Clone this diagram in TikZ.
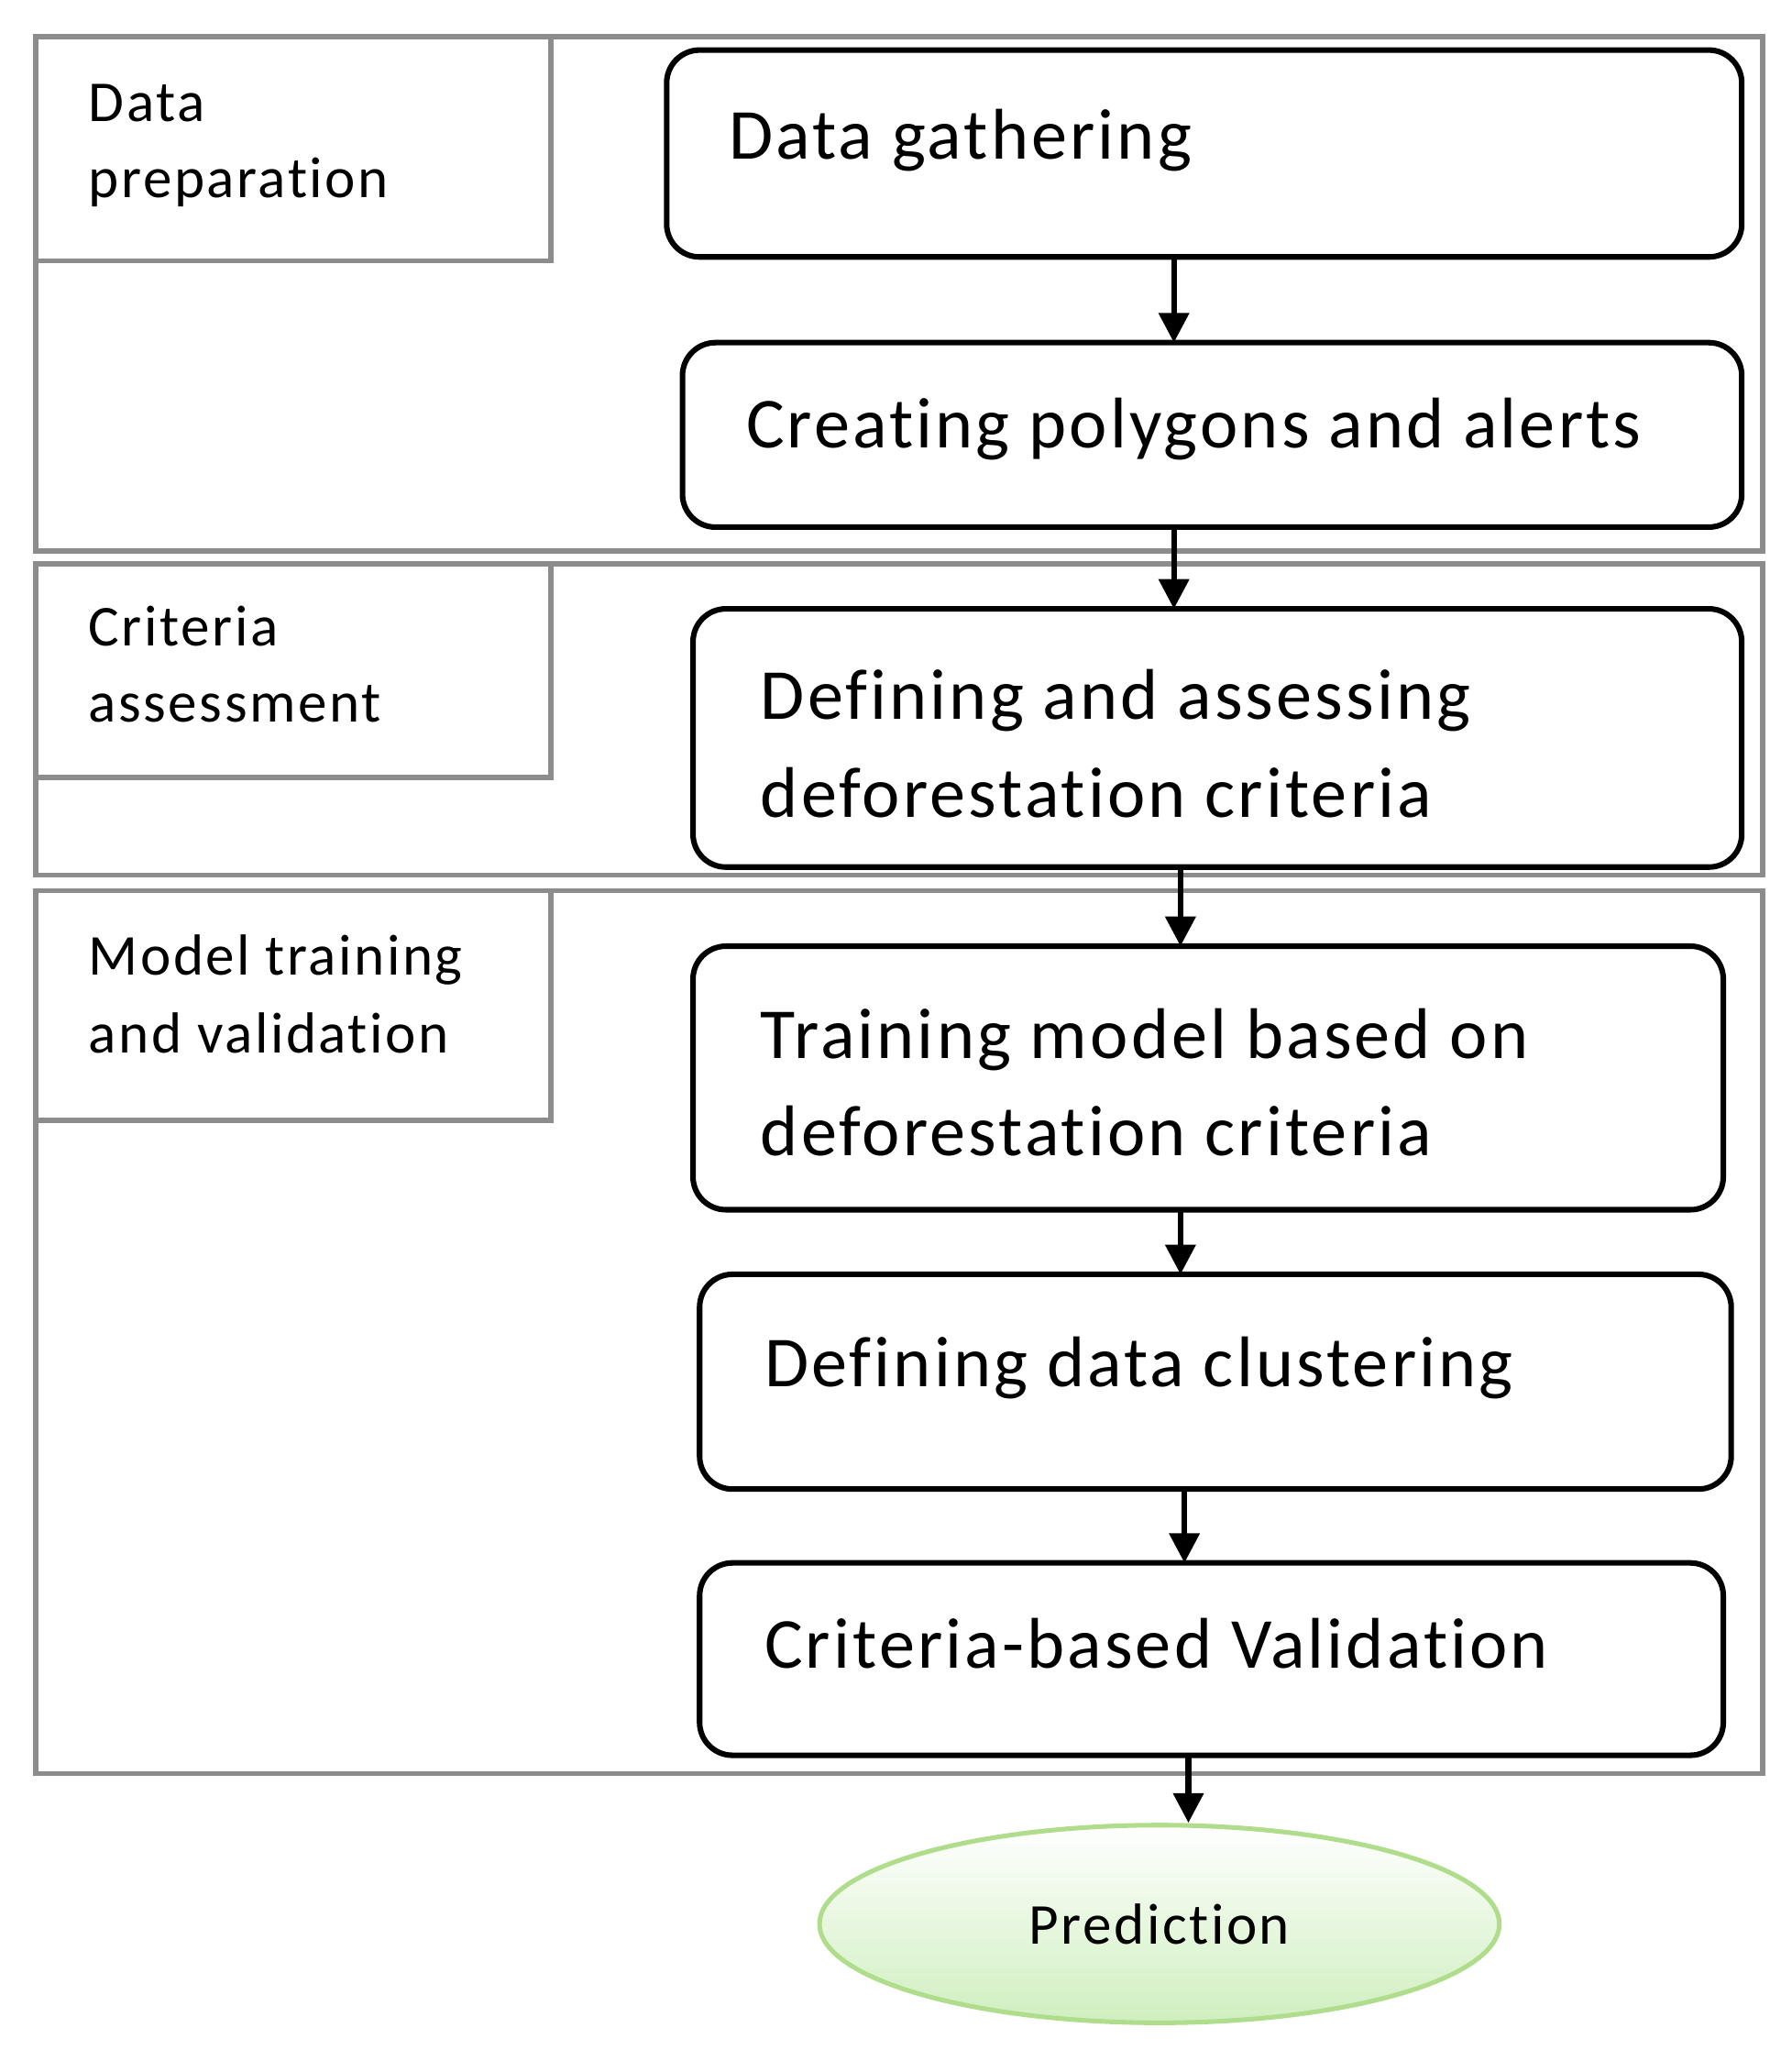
\documentclass[tikz,border=0pt]{standalone}
\usepackage{fontspec}
\setmainfont{Carlito}[LetterSpace=4,Ligatures=NoCommon]
\usetikzlibrary{arrows.meta,shapes.geometric}
\begin{document}
\begin{tikzpicture}[x=0.02cm,y=-0.02cm,
  grp/.style={draw=black!45,line width=2.2pt},
  box/.style={draw=black,line width=2.4pt,rounded corners=0.5cm},
  main/.style={anchor=base west,font=\fontsize{31}{37}\selectfont,inner sep=0pt},
  lab/.style={anchor=base west,font=\fontsize{25}{30}\selectfont,inner sep=0pt},
  arr/.style={line width=2.4pt,-{Triangle[length=0.45cm,width=0.45cm]}}]
\useasboundingbox (0,0) rectangle (1360,1564);
% groups
\draw[grp] (27,28) rectangle (1338,418);
\draw[grp] (27,28) rectangle (418,198);
\draw[grp] (27,428) rectangle (1338,664);
\draw[grp] (27,428) rectangle (418,590);
\draw[grp] (27,676) rectangle (1338,1346);
\draw[grp] (27,676) rectangle (418,850);
\node[lab] (l1a) at (67,92) {Data};
\node[lab] (l1b) at (67,150) {preparation};
\node[lab] (l2a) at (67,490) {Criteria};
\node[lab] (l2b) at (67,548) {assessment};
\node[lab] (l3a) at (67,740) {Model training};
\node[lab] (l3b) at (67,799) {and validation};
% boxes
\draw[box] (506,38) rectangle (1322,195);
\draw[box] (518,260) rectangle (1322,400);
\draw[box] (526,462) rectangle (1322,658);
\draw[box] (526,718) rectangle (1308,918);
\draw[box] (531,967) rectangle (1314,1130);
\draw[box] (531,1186) rectangle (1308,1332);
\node[main] (t1) at (553,121) {Data gathering};
\node[main] (t2) at (566,340) {Creating polygons and alerts};
\node[main] (t3a) at (577,546) {Defining and assessing};
\node[main] (t3b) at (577,620) {deforestation criteria};
\node[main] (t4a) at (577,803) {Training model based on};
\node[main] (t4b) at (577,877) {deforestation criteria};
\node[main] (t5) at (580,1052) {Defining data clustering};
\node[main] (t6) at (580,1266) {Criteria-based Validation};
% ellipse
\node[ellipse,draw=green!40!olive!45,line width=2pt,
  top color=white,bottom color=green!50!olive!25,
  minimum width=516*0.02cm,minimum height=150*0.02cm,
  font=\fontsize{25}{30}\selectfont] (pred) at (880,1460) {Prediction};
% arrows
\coordinate (a1) at (891,195); \coordinate (b1) at (891,260);
\coordinate (a2) at (891,400); \coordinate (b2) at (891,462);
\coordinate (a3) at (896,658); \coordinate (b3) at (896,718);
\coordinate (a4) at (896,918); \coordinate (b4) at (896,967);
\coordinate (a5) at (899,1130); \coordinate (b5) at (899,1186);
\coordinate (a6) at (902,1332);
\draw[arr] (a1) -- (b1);
\draw[arr] (a2) -- (b2);
\draw[arr] (a3) -- (b3);
\draw[arr] (a4) -- (b4);
\draw[arr] (a5) -- (b5);
\draw[arr] (a6) -- (a6 |- pred.north);
\end{tikzpicture}
\end{document}
